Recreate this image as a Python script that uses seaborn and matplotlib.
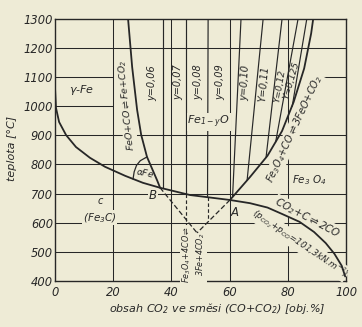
import matplotlib
matplotlib.use("Agg")
import matplotlib.pyplot as plt
import pandas as pd
import seaborn as sns

# ---- equilibrium curves (CO2 content in %, temperature in °C) ----
# CO2 + C <=> 2CO (Boudouard)
boud_x = [0, 0.34, 1.4, 3.8, 7.2, 12.0, 17.2, 24.1, 30.2, 36.1, 46.4, 60.1,
          67.0, 73.0, 78.0, 84.0, 89.0, 93.0, 96.0, 98.5, 99.7]
boud_t = [1063, 994, 946, 901, 860, 823, 792, 761, 737, 720, 695, 678,
          667, 652, 630, 603, 568, 530, 493, 452, 415]

# FeO + CO <=> Fe + CO2
feo_x = [25.1, 26.5, 28.2, 29.6, 31.6, 35.1, 36.1]
feo_t = [1300, 1135, 988, 902, 826, 745, 720]

# Fe3O4 + CO <=> 3FeO + CO2
mag_x = [60.1, 67.0, 73.0, 78.0, 82.0, 85.6, 88.0, 88.7]
mag_t = [678, 757, 830, 915, 1015, 1130, 1250, 1300]

# alpha-Fe field boundary
alpha_x = [26.8, 27.2, 28.0, 29.3, 31.6]
alpha_t = [750, 775, 797, 813, 826]

# metastable branches below B and A meeting at the Fe3O4/Fe point
meta_b_x = [36.1, 48.8]
meta_b_t = [720, 565]
meta_a_x = [60.1, 48.8]
meta_a_t = [678, 565]

# Fe(1-y)O iso-composition lines: top end and lower end
y_names = ["y=0,06", "y=0,07", "y=0,08", "y=0,09", "y=0,10",
           "Y=0,11", "Y=0,12", "Y=0,125"]
y_top_x = [37.1, 45.0, 52.6, 63.9, 71.5, 78.0, 83.5, 86.5]
y_bot_x = [37.1, 45.0, 52.4, 61.0, 66.0, 72.5, 75.8, 81.5]
y_bot_t = [718, 698, 688, 689, 746, 824, 877, 1000]
# dashed continuation below the Boudouard curve
y_dash_x = [45.0, 52.4]
y_dash_top = [698, 688]
y_dash_bot = [578, 605]

# labels of the iso-composition lines
y_lab_x = [33.3, 42.3, 49.1, 56.7, 65.3, 71.8, 77.3, 81.3]
y_lab_t = [1080, 1084, 1084, 1084, 1080, 1078, 1068, 1090]
y_lab_rot = [90, 90, 90, 90, 87, 85, 80, 74]

# axes
x_ticks = [0, 20, 40, 60, 80, 100]
t_ticks = [400, 500, 600, 700, 800, 900, 1000, 1100, 1200, 1300]
grid_x = [20, 40, 60, 80]
grid_t = [500, 600, 700, 800, 900, 1000, 1100, 1200]
grid_spans = [[(0, 100)], [(0, 100)], [(0, 100)], [(0, 100)], [(0, 100)],
              [(0, 20)], [(0, 20), (89, 100)], [(0, 100)]]

paper = "#EEEBD6"
ink = "#272727"

sns.set_style("white")
plt.rcParams.update({
    "font.family": ["DejaVu Sans"],
    "font.style": "italic",
    "mathtext.default": "it",
    "axes.facecolor": paper,
    "figure.facecolor": paper,
    "savefig.facecolor": paper,
})

fig = plt.figure(figsize=(3.62, 3.27), dpi=100)
ax = fig.add_axes([0.152, 0.141, 0.804, 0.801])


def draw(x, t, lw=1.1, ls="-", z=5):
    df = pd.DataFrame({"co2": x, "temp": t})
    sns.lineplot(data=df, x="co2", y="temp", sort=False, estimator=None,
                 ax=ax, color=ink, lw=lw, linestyle=ls, zorder=z)


# grid
for gx in grid_x:
    draw([gx, gx], [400, 1300], lw=0.75, z=1)
for gt, spans in zip(grid_t, grid_spans):
    for a, b in spans:
        draw([a, b], [gt, gt], lw=0.75, z=1)

# iso-composition lines
for xt, xb, tb in zip(y_top_x, y_bot_x, y_bot_t):
    draw([xt, xb], [1300, tb], lw=0.85, z=3)
for xd, ta, tb in zip(y_dash_x, y_dash_top, y_dash_bot):
    draw([xd, xd], [ta, tb], lw=0.85, ls=(0, (3, 2)), z=3)

# equilibria
draw(boud_x, boud_t, lw=1.3)
draw(feo_x, feo_t, lw=1.3)
draw(mag_x, mag_t, lw=1.3)
draw(alpha_x, alpha_t, lw=0.9)
draw(meta_b_x, meta_b_t, lw=0.9, ls=(0, (4, 2)))
draw(meta_a_x, meta_a_t, lw=0.9, ls=(0, (4, 2)))

ax.set_xlim(0, 100)
ax.set_ylim(400, 1300)
ax.set_xlabel("")
ax.set_ylabel("")
ax.set_xticks(x_ticks)
ax.set_xticklabels([str(v) for v in x_ticks])
ax.set_yticks(t_ticks)
ax.set_yticklabels([str(v) for v in t_ticks])
ax.tick_params(length=0, labelsize=8.3, colors=ink)
ax.tick_params(axis="x", pad=3.5)
ax.tick_params(axis="y", pad=1.5)
for s in ax.spines.values():
    s.set_visible(True)
    s.set_color(ink)
    s.set_linewidth(1.0)

gap = dict(facecolor=paper, edgecolor="none", pad=0.6)


def label(x, t, s, size=7.5, rot=0, box=False, **kw):
    ax.text(x, t, s, fontsize=size, rotation=rot, color=ink,
            ha="center", va="center", rotation_mode="anchor",
            bbox=gap if box else None, zorder=4, **kw)


for name, lx, lt, lr in zip(y_names, y_lab_x, y_lab_t, y_lab_rot):
    label(lx, lt, name, size=7 if lr > 80 else 6.5, rot=lr)

label(9.3, 1056, r"$\gamma$-Fe", size=8)
label(52.9, 946, r"Fe$_{1-y}$O", size=8, box=True)
label(87.6, 747, r"Fe$_3$ O$_4$", size=7.5)
label(15.5, 673, "c", size=7)
label(15.3, 617, r"(Fe$_3$C)", size=7.5, box=True)
label(33.7, 695, "B", size=8.5, box=True)
label(61.8, 636, "A", size=8.5)
label(30.9, 772, r"$\alpha$Fe", size=6.5, rot=-12)
label(24.6, 1005, r"FeO+CO$\rightleftharpoons$Fe+CO$_2$", size=6.8, rot=96,
      box=True)
label(82.2, 922, r"Fe$_3$O$_4$+CO$\rightleftharpoons$3FeO+CO$_2$", size=7,
      rot=65, box=True)
label(86.8, 617, r"CO$_2$+C$\rightleftharpoons$2CO", size=7.5, rot=-28,
      box=True)
label(84.0, 528, r"(p$_{CO_2}$+p$_{CO}$=101,3kN.m$^{-2}$)", size=6.3,
      rot=-34, box=True)
label(47.6, 492, "Fe$_3$O$_4$+4CO$\\rightleftharpoons$\n3Fe+4CO$_2$", size=5.8,
      rot=90, box=True, linespacing=1.1, multialignment="center")

fig.text(0.60, 0.058, r"obsah CO$_2$ ve směsi (CO+CO$_2$) [obj.%]",
         fontsize=8, color=ink, ha="center", va="center")
fig.text(0.034, 0.545, "teplota [°C]", fontsize=8, color=ink,
         rotation=90, ha="center", va="center")

fig.savefig("out.png", dpi=100)
